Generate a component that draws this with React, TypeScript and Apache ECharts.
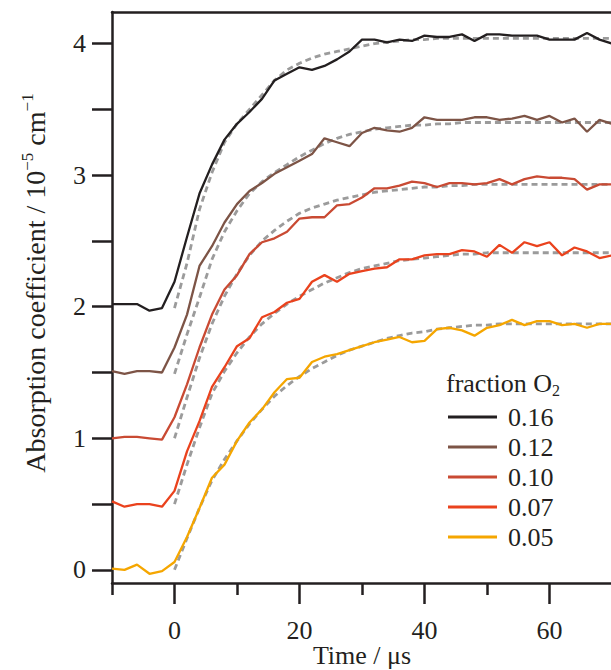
import React, { useEffect, useRef } from "react";
import * as echarts from "echarts";

const timeData = [-10, -8, -6, -4, -2, 0, 2, 4, 6, 8, 10, 12, 14, 16, 18, 20, 22, 24, 26, 28, 30, 32, 34, 36, 38, 40, 42, 44, 46, 48, 50, 52, 54, 56, 58, 60, 62, 64, 66, 68, 70];
const fitTime = [0, 2, 4, 6, 8, 10, 12, 14, 16, 18, 20, 22, 24, 26, 28, 30, 32, 34, 36, 38, 40, 42, 44, 46, 48, 50, 52, 54, 56, 58, 60, 62, 64, 66, 68, 70];

const seriesNames = ["0.16", "0.12", "0.10", "0.07", "0.05"];
const seriesColors = ["#231f20", "#7d5446", "#c94a33", "#ea421d", "#f5a600"];

const data016 = [2.02, 2.02, 2.02, 1.97, 1.99, 2.19, 2.53, 2.86, 3.08, 3.27, 3.39, 3.48, 3.58, 3.72, 3.77, 3.82, 3.80, 3.83, 3.88, 3.94, 4.03, 4.03, 4.01, 4.03, 4.02, 4.06, 4.05, 4.05, 4.07, 4.02, 4.07, 4.07, 4.06, 4.06, 4.06, 4.03, 4.03, 4.03, 4.08, 4.03, 4.00];
const data012 = [1.51, 1.49, 1.51, 1.51, 1.50, 1.69, 1.94, 2.31, 2.46, 2.64, 2.78, 2.88, 2.94, 3.01, 3.06, 3.11, 3.16, 3.28, 3.25, 3.22, 3.32, 3.36, 3.34, 3.33, 3.36, 3.44, 3.42, 3.42, 3.42, 3.44, 3.44, 3.42, 3.43, 3.45, 3.42, 3.45, 3.40, 3.43, 3.33, 3.42, 3.39];
const data010 = [1.00, 1.01, 1.01, 1.00, 0.99, 1.16, 1.41, 1.69, 1.94, 2.13, 2.24, 2.40, 2.49, 2.52, 2.57, 2.67, 2.68, 2.68, 2.77, 2.78, 2.83, 2.90, 2.90, 2.92, 2.95, 2.94, 2.91, 2.94, 2.94, 2.93, 2.94, 2.97, 2.93, 2.97, 2.99, 2.98, 2.98, 2.97, 2.89, 2.93, 2.93];
const data007 = [0.52, 0.48, 0.50, 0.50, 0.48, 0.60, 0.90, 1.13, 1.39, 1.54, 1.70, 1.76, 1.92, 1.96, 2.03, 2.06, 2.19, 2.24, 2.19, 2.25, 2.27, 2.29, 2.30, 2.36, 2.36, 2.39, 2.40, 2.40, 2.43, 2.42, 2.38, 2.47, 2.41, 2.49, 2.46, 2.49, 2.39, 2.45, 2.42, 2.37, 2.39];
const data005 = [0.01, 0.00, 0.04, -0.03, -0.01, 0.06, 0.25, 0.47, 0.70, 0.80, 0.98, 1.12, 1.22, 1.35, 1.45, 1.46, 1.58, 1.62, 1.64, 1.67, 1.70, 1.73, 1.75, 1.77, 1.73, 1.74, 1.83, 1.84, 1.82, 1.78, 1.84, 1.86, 1.90, 1.86, 1.89, 1.89, 1.86, 1.87, 1.84, 1.87, 1.87];

const fit016 = [1.99, 2.33, 2.74, 3.02, 3.25, 3.39, 3.50, 3.61, 3.72, 3.80, 3.85, 3.89, 3.92, 3.94, 3.96, 3.98, 4.00, 4.01, 4.02, 4.03, 4.03, 4.04, 4.04, 4.04, 4.04, 4.04, 4.04, 4.04, 4.04, 4.04, 4.04, 4.04, 4.04, 4.04, 4.04, 4.04];
const fit012 = [1.49, 1.79, 2.07, 2.36, 2.57, 2.73, 2.86, 2.95, 3.02, 3.08, 3.14, 3.19, 3.24, 3.28, 3.31, 3.33, 3.35, 3.36, 3.37, 3.38, 3.38, 3.39, 3.39, 3.40, 3.40, 3.40, 3.40, 3.40, 3.40, 3.40, 3.40, 3.40, 3.40, 3.40, 3.40, 3.40];
const fit010 = [1.00, 1.31, 1.61, 1.87, 2.08, 2.25, 2.39, 2.50, 2.58, 2.65, 2.71, 2.75, 2.78, 2.81, 2.83, 2.85, 2.87, 2.88, 2.89, 2.90, 2.91, 2.91, 2.92, 2.92, 2.93, 2.93, 2.93, 2.93, 2.93, 2.93, 2.93, 2.93, 2.93, 2.93, 2.93, 2.93];
const fit007 = [0.50, 0.80, 1.08, 1.34, 1.51, 1.65, 1.77, 1.87, 1.95, 2.02, 2.08, 2.13, 2.18, 2.22, 2.26, 2.29, 2.31, 2.33, 2.35, 2.36, 2.37, 2.38, 2.39, 2.40, 2.40, 2.41, 2.41, 2.41, 2.41, 2.41, 2.41, 2.41, 2.41, 2.41, 2.41, 2.41];
const fit005 = [0.00, 0.24, 0.47, 0.68, 0.84, 0.98, 1.11, 1.22, 1.32, 1.40, 1.47, 1.53, 1.58, 1.63, 1.67, 1.70, 1.73, 1.76, 1.78, 1.80, 1.81, 1.83, 1.84, 1.85, 1.86, 1.86, 1.87, 1.87, 1.87, 1.87, 1.87, 1.87, 1.87, 1.87, 1.87, 1.87];

const xMajorTicks = [0, 20, 40, 60];
const xMinorTicks = [-10, 10, 30, 50, 70];
const yTicks = [0, 0.5, 1, 1.5, 2, 2.5, 3, 3.5, 4];
const yLabels = [0, 1, 2, 3, 4];

const FONT = "Liberation Serif, Times New Roman, serif";
const INK = "#231f20";

export default function App() {
  const ref = useRef<HTMLDivElement>(null);
  useEffect(() => {
    if (!ref.current) return;
    const chart = echarts.init(ref.current, null, { renderer: "svg" });
    const measured = [data016, data012, data010, data007, data005];
    const fits = [fit016, fit012, fit010, fit007, fit005];
    const fitSeries = fits.map((f, k) => ({
      name: "fit " + seriesNames[k],
      type: "line",
      data: fitTime.map((t, i) => [t, f[i]]),
      symbol: "none",
      showSymbol: false,
      silent: true,
      z: 2,
      lineStyle: { color: "#9b9b9b", width: 2.8, type: [6, 4] },
    }));
    const dataSeries = measured.map((d, k) => ({
      name: seriesNames[k],
      type: "line",
      data: timeData.map((t, i) => [t, d[i]]),
      symbol: "none",
      showSymbol: false,
      z: 3,
      color: seriesColors[k],
      lineStyle: { color: seriesColors[k], width: 2.3 },
    }));
    const axisLineStyle = { color: INK, width: 2.5 };
    const textBase = { fontSize: 26, fontFamily: FONT, color: INK };
    chart.setOption({
      animation: false,
      backgroundColor: "#ffffff",
      textStyle: { fontFamily: FONT },
      grid: { left: 112, top: 12, width: 500, height: 571, containLabel: false, outerBoundsMode: "none" },
      xAxis: [
        {
          type: "value",
          min: -10,
          max: 70,
          position: "bottom",
          axisLine: { show: true, onZero: false, lineStyle: axisLineStyle },
          axisTick: { show: true, customValues: xMajorTicks, length: 21, lineStyle: axisLineStyle },
          axisLabel: { customValues: xMajorTicks, margin: 34, ...textBase },
          splitLine: { show: false },
        },
        {
          type: "value",
          min: -10,
          max: 70,
          position: "bottom",
          axisLine: { show: false, onZero: false },
          axisTick: { show: true, customValues: xMinorTicks, length: 12, lineStyle: axisLineStyle },
          axisLabel: { show: false },
          splitLine: { show: false },
        },
        {
          type: "value",
          min: -10,
          max: 70,
          position: "top",
          axisLine: { show: true, onZero: false, lineStyle: axisLineStyle },
          axisTick: { show: false },
          axisLabel: { show: false },
          splitLine: { show: false },
        },
      ],
      yAxis: {
        type: "value",
        min: -0.1,
        max: 4.24,
        position: "left",
        axisLine: { show: true, onZero: false, lineStyle: axisLineStyle },
        axisTick: { show: true, customValues: yTicks, length: 20, lineStyle: axisLineStyle },
        axisLabel: { customValues: yLabels, margin: 26, ...textBase },
        splitLine: { show: false },
      },
      legend: {
        data: seriesNames,
        orient: "vertical",
        left: 448,
        top: 404,
        padding: 0,
        icon: "rect",
        itemWidth: 49,
        itemHeight: 3,
        itemGap: 4,
        textStyle: { ...textBase, lineHeight: 26, padding: [0, 0, 0, 6] },
      },
      graphic: [
        {
          type: "text",
          x: 362,
          y: 655,
          style: {
            text: "Time / μs",
            fontSize: 26,
            fontFamily: FONT,
            fill: INK,
            align: "center",
            verticalAlign: "middle",
          },
        },
        {
          type: "text",
          x: 446,
          y: 383,
          style: {
            text: "fraction O{sub|2}",
            fontSize: 26,
            fontFamily: FONT,
            fill: INK,
            verticalAlign: "middle",
            lineHeight: 30,
            rich: { sub: { fontSize: 16, fontFamily: FONT, fill: INK, verticalAlign: "bottom", lineHeight: 16 } },
          },
        },
        {
          type: "text",
          x: 35,
          y: 283,
          rotation: Math.PI / 2,
          style: {
            text: "Absorption coefficient / 10{sup|−5} cm{sup|−1}",
            fontSize: 28,
            fontFamily: FONT,
            fill: INK,
            align: "center",
            verticalAlign: "middle",
            lineHeight: 32,
            rich: { sup: { fontSize: 17, fontFamily: FONT, fill: INK, verticalAlign: "top", lineHeight: 17 } },
          },
        },
      ],
      series: [...fitSeries, ...dataSeries],
    });
    return () => chart.dispose();
  }, []);
  return <div ref={ref} style={{ position: "absolute", left: 0, top: 0, width: 611, height: 670 }} />;
}
